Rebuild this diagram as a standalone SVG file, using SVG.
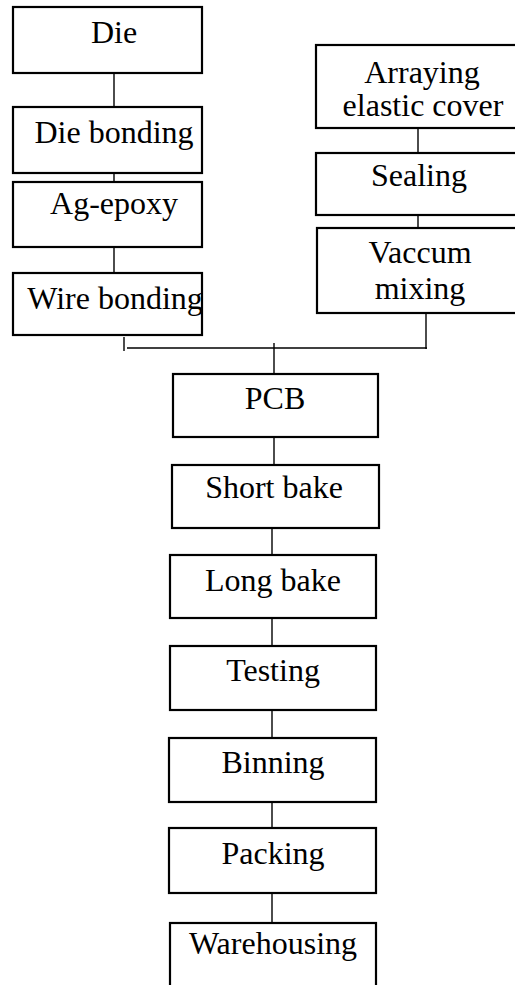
<svg xmlns="http://www.w3.org/2000/svg" width="515" height="985" viewBox="0 0 515 985">
<style>
.box{fill:#fff;stroke:#000;stroke-width:2.2}
.t{font-size:32px;fill:#000;text-anchor:middle}
.c{stroke:#000;stroke-width:1.4;fill:none}
</style>
<rect width="515" height="985" fill="#fff"/>
<g id="connectors">
<line class="c" x1="114" y1="73" x2="114" y2="107"/>
<line class="c" x1="114" y1="152" x2="114" y2="182"/>
<line class="c" x1="114" y1="243" x2="114" y2="273"/>
<line class="c" x1="418" y1="122" x2="418" y2="153"/>
<line class="c" x1="418" y1="198" x2="418" y2="228"/>
<line class="c" x1="426" y1="313" x2="426" y2="349"/>
<line class="c" x1="124" y1="337" x2="124" y2="351"/>
<line class="c" x1="127" y1="348" x2="427" y2="348"/>
<line class="c" x1="274" y1="343" x2="274" y2="374"/>
<line class="c" x1="274" y1="434" x2="274" y2="465"/>
<line class="c" x1="272" y1="525" x2="272" y2="555"/>
<line class="c" x1="272" y1="615" x2="272" y2="646"/>
<line class="c" x1="272" y1="708" x2="272" y2="738"/>
<line class="c" x1="272" y1="800" x2="272" y2="828"/>
<line class="c" x1="272" y1="893" x2="272" y2="923"/>
</g>
<g font-family="Liberation Serif, Times New Roman, DejaVu Serif, serif">
<g id="die"><rect class="box" x="13" y="7" width="189" height="66"/><text class="t" x="114" y="43">Die</text></g>
<g id="die-bonding"><rect class="box" x="13" y="107" width="189" height="66"/><text class="t" x="114" y="143">Die bonding</text></g>
<g id="ag-epoxy"><rect class="box" x="13" y="182" width="189" height="65"/><text class="t" x="114" y="214">Ag-epoxy</text></g>
<g id="wire-bonding"><rect class="box" x="13" y="273" width="189" height="62"/><text class="t" x="115" y="309">Wire bonding</text></g>
<g id="arraying"><rect class="box" x="316" y="45" width="210" height="83"/><text class="t" x="422" y="83">Arraying</text><text class="t" x="423" y="116">elastic cover</text></g>
<g id="sealing"><rect class="box" x="316" y="153" width="210" height="62"/><text class="t" x="419" y="186">Sealing</text></g>
<g id="vaccum-mixing"><rect class="box" x="317" y="228" width="210" height="85"/><text class="t" x="420" y="263">Vaccum</text><text class="t" x="420" y="299">mixing</text></g>
<g id="pcb"><rect class="box" x="173" y="374" width="205" height="63"/><text class="t" x="275" y="409">PCB</text></g>
<g id="short-bake"><rect class="box" x="172" y="465" width="207" height="63"/><text class="t" x="274" y="498">Short bake</text></g>
<g id="long-bake"><rect class="box" x="170" y="555" width="206" height="63"/><text class="t" x="273" y="591">Long bake</text></g>
<g id="testing"><rect class="box" x="170" y="646" width="206" height="64"/><text class="t" x="273" y="681">Testing</text></g>
<g id="binning"><rect class="box" x="169" y="738" width="207" height="64"/><text class="t" x="273" y="773">Binning</text></g>
<g id="packing"><rect class="box" x="169" y="828" width="207" height="65"/><text class="t" x="273" y="864">Packing</text></g>
<g id="warehousing"><rect class="box" x="170" y="923" width="206" height="80"/><text class="t" x="273" y="954">Warehousing</text></g>
</g>
</svg>
